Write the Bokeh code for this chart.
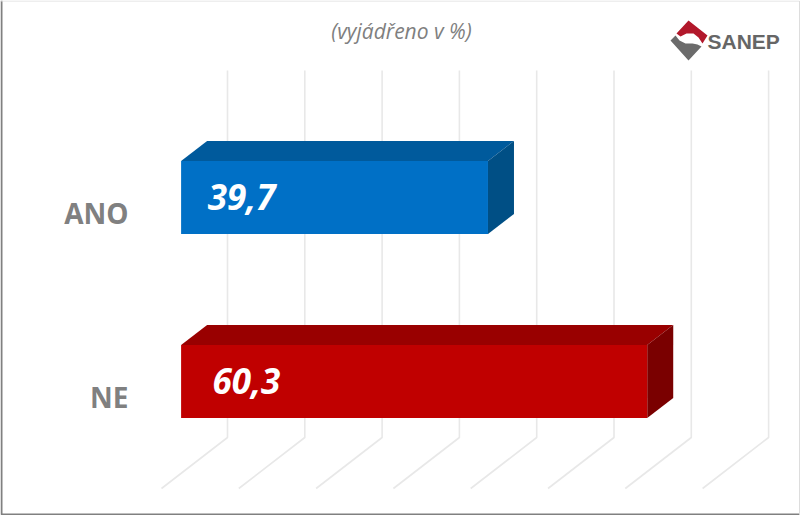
from bokeh.plotting import figure
from bokeh.models import Range1d, LinearAxis, FixedTicker
from bokeh.core.properties import value
from bokeh.embed import file_html
from bokeh.resources import INLINE

categories = ["ANO", "NE"]
values = [39.7, 60.3]
labels = ["39,7", "60,3"]
grid_values = [0, 10, 20, 30, 40, 50, 60, 70]
title_text = "(vyjádřeno v %)"
logo_text = "SANEP"
front_colors = ["#0070C6", "#C00000"]
top_colors = ["#005A9C", "#990000"]
side_colors = ["#004F85", "#7A0000"]

W, H = 800, 515
PX_PER_UNIT = 7.73
ZERO_PX = 180.6
ROW_PX = 184.0
NE_PX = 396.0

def X(px):
    return (px - ZERO_PX) / PX_PER_UNIT

def Y(py):
    return (NE_PX - py) / ROW_PX

p = figure(width=W, height=H, output_backend="svg", toolbar_location=None,
           x_range=Range1d(X(0), X(W)), y_range=Range1d(Y(H), Y(0)),
           min_border=0, x_axis_type=None, y_axis_type=None,
           background_fill_color="white", border_fill_color="white",
           outline_line_color=None,
           styles={"position": "absolute", "left": "0", "top": "0"})
p.grid.visible = False

# 3D wall and floor grid
GRID_COLOR = "#E8E8E8"
for g in grid_values:
    back = X(227) + g
    front = X(161) + g
    p.line([front, back, back], [Y(488), Y(437), Y(70)],
           line_color=GRID_COLOR, line_width=1.6)

# 3D bars
DEPTH_X = 26 / PX_PER_UNIT
DEPTH_Y = 20 / ROW_PX
BAR_H = 73 / ROW_PX
CENTER_SHIFT = 15 / ROW_PX
rows = [1, 0]
for i, cat in enumerate(categories):
    v = values[i]
    c = rows[i] + CENTER_SHIFT
    b, t = c - BAR_H / 2, c + BAR_H / 2
    p.patch([0, v, v + DEPTH_X, DEPTH_X], [t, t, t + DEPTH_Y, t + DEPTH_Y],
            fill_color=top_colors[i], line_color=None)
    p.patch([v, v + DEPTH_X, v + DEPTH_X, v], [t, t + DEPTH_Y, b + DEPTH_Y, b],
            fill_color=side_colors[i], line_color=None)
    p.quad(left=[0], right=[v], bottom=[b], top=[t],
           fill_color=front_colors[i], line_color=None)
    p.text([(17 + 0.24 * v) / PX_PER_UNIT], [c + 1 / ROW_PX], text=[labels[i]],
           text_font=value("Open Sans"), text_font_style="bold italic",
           text_font_size="35px", text_color="white",
           text_align="left", text_baseline="middle")

# Category axis
axis = LinearAxis(fixed_location=X(131),
                  ticker=FixedTicker(ticks=rows),
                  major_label_overrides={r: c for r, c in zip(rows, categories)},
                  axis_line_color=None, major_tick_line_color=None,
                  minor_tick_line_color=None, major_label_standoff=-3,
                  major_label_text_font="Open Sans",
                  major_label_text_font_style="bold",
                  major_label_text_font_size="28px",
                  major_label_text_color="#808080")
p.add_layout(axis, "left")

# Subtitle
p.text([X(401)], [Y(30)], text=[title_text], text_font=value("Open Sans"),
       text_font_style="italic", text_font_size="21px", text_color="#7F7F7F",
       text_align="center", text_baseline="middle")

# Logo
red = [(688, 20), (676, 33), (680, 36), (686, 33), (693, 33), (698, 37),
       (702, 43), (707, 35)]
gray = [(670, 40), (675, 35), (679, 40), (685, 43), (692, 43), (697, 44),
        (701, 46), (688, 60)]
p.patch([X(a) for a, _ in red], [Y(b) for _, b in red],
        fill_color="#B2182B", line_color=None)
p.patch([X(a) for a, _ in gray], [Y(b) for _, b in gray],
        fill_color="#6B6B6B", line_color=None)
p.text([X(707)], [Y(41)], text=[logo_text], text_font=value("Liberation Sans"),
       text_font_size="21px", text_font_style="bold", text_color="#666666",
       text_align="left", text_baseline="middle")

# Frame of the picture
p.line([X(1), X(1), X(799)], [Y(0), Y(514), Y(514)],
       line_color="#808080", line_width=2)
p.line([X(0), X(799), X(799)], [Y(0.5), Y(0.5), Y(514)],
       line_color="#DDDDDD", line_width=1)

open("out.html", "w").write(file_html(p, INLINE))
